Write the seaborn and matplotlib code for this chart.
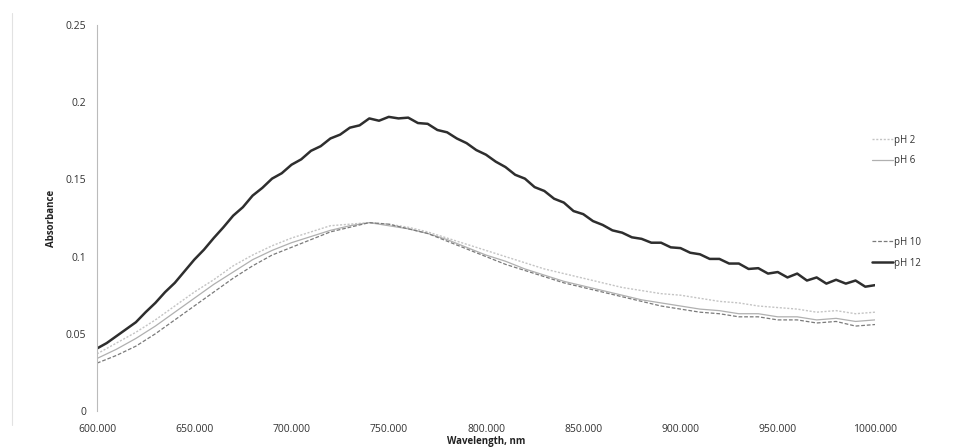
import numpy as np
import pandas as pd
import matplotlib
matplotlib.use("Agg")
import matplotlib.pyplot as plt
from matplotlib.lines import Line2D
import seaborn as sns

# ---- data ----
wl_fine = list(range(600, 1001, 5))
ph12 = [0.0405, 0.0440, 0.0485, 0.0530, 0.0575, 0.0640, 0.0700, 0.0770, 0.0830, 0.0905,
        0.0980, 0.1045, 0.1120, 0.1190, 0.1265, 0.1320, 0.1395, 0.1445, 0.1505, 0.1540,
        0.1595, 0.1630, 0.1685, 0.1715, 0.1765, 0.1790, 0.1835, 0.1850, 0.1895, 0.1880,
        0.1905, 0.1895, 0.1900, 0.1865, 0.1860, 0.1820, 0.1805, 0.1765, 0.1735, 0.1690,
        0.1660, 0.1615, 0.1580, 0.1530, 0.1505, 0.1450, 0.1425, 0.1375, 0.1350, 0.1295,
        0.1275, 0.1230, 0.1205, 0.1170, 0.1155, 0.1125, 0.1115, 0.1090, 0.1090, 0.1060,
        0.1055, 0.1025, 0.1015, 0.0985, 0.0985, 0.0955, 0.0955, 0.0920, 0.0925, 0.0890,
        0.0900, 0.0865, 0.0890, 0.0845, 0.0865, 0.0825, 0.0850, 0.0825, 0.0845, 0.0805,
        0.0815]

wl_coarse = list(range(600, 1001, 10))
ph2 = [0.037, 0.044, 0.051, 0.059, 0.068, 0.077, 0.085, 0.094, 0.101, 0.107,
       0.112, 0.116, 0.120, 0.121, 0.122, 0.121, 0.119, 0.116, 0.112, 0.108,
       0.104, 0.100, 0.096, 0.092, 0.089, 0.086, 0.083, 0.080, 0.078, 0.076,
       0.075, 0.073, 0.071, 0.070, 0.068, 0.067, 0.066, 0.064, 0.065, 0.063,
       0.064]
ph6 = [0.034, 0.040, 0.047, 0.055, 0.064, 0.073, 0.082, 0.090, 0.098, 0.104,
       0.109, 0.113, 0.117, 0.120, 0.122, 0.120, 0.118, 0.115, 0.111, 0.106,
       0.101, 0.097, 0.092, 0.088, 0.084, 0.081, 0.078, 0.075, 0.072, 0.070,
       0.068, 0.066, 0.065, 0.063, 0.063, 0.061, 0.061, 0.059, 0.060, 0.058,
       0.059]
ph10 = [0.031, 0.036, 0.042, 0.050, 0.059, 0.068, 0.077, 0.086, 0.094, 0.101,
        0.106, 0.111, 0.116, 0.119, 0.122, 0.121, 0.118, 0.115, 0.110, 0.105,
        0.100, 0.095, 0.091, 0.087, 0.083, 0.080, 0.077, 0.074, 0.071, 0.068,
        0.066, 0.064, 0.063, 0.061, 0.061, 0.059, 0.059, 0.057, 0.058, 0.055,
        0.056]

x_ticks = [600, 650, 700, 750, 800, 850, 900, 950, 1000]
y_ticks = [0, 0.05, 0.1, 0.15, 0.2, 0.25]
y_tick_labels = ["0", "0.05", "0.1", "0.15", "0.2", "0.25"]

sns.set_style("white")
plt.rcParams['font.family'] = ['Open Sans', 'DejaVu Sans']

fig = plt.figure(figsize=(9.61, 4.47), dpi=100)
ax = fig.add_axes([97/961, 36/447, 778/961, 386/447])

df12 = pd.DataFrame({"wl": wl_fine, "abs": ph12})
df2 = pd.DataFrame({"wl": wl_coarse, "abs": ph2})
df6 = pd.DataFrame({"wl": wl_coarse, "abs": ph6})
df10 = pd.DataFrame({"wl": wl_coarse, "abs": ph10})

sns.lineplot(data=df2, x="wl", y="abs", ax=ax, color="#c4c4c4", linewidth=1.0,
             linestyle=(0, (1.5, 1.2)), label="pH 2")
sns.lineplot(data=df6, x="wl", y="abs", ax=ax, color="#b0b0b0", linewidth=0.9,
             label="pH 6")
sns.lineplot(data=df10, x="wl", y="abs", ax=ax, color="#7a7a7a", linewidth=0.9,
             linestyle=(0, (3, 1.5)), label="pH 10")
sns.lineplot(data=df12, x="wl", y="abs", ax=ax, color="#2e2e2e", linewidth=1.8,
             label="pH 12")

ax.set_xlim(600, 1000)
ax.set_ylim(0, 0.25)
ax.set_xticks(x_ticks)
ax.set_xticklabels([f"{v:.3f}" for v in x_ticks], fontsize=7.5, color="#333333")
ax.set_yticks(y_ticks)
ax.set_yticklabels(y_tick_labels, fontsize=7.5, color="#333333")
ax.tick_params(axis="y", length=0, pad=8)
ax.tick_params(axis="x", length=2, direction="in", color="#dddddd", pad=9)

for s in ["top", "right", "bottom"]:
    ax.spines[s].set_visible(False)
ax.spines["left"].set_color("#bbbbbb")
ax.spines["left"].set_linewidth(0.8)
ax.grid(False)

ax.set_ylabel("Absorbance", fontsize=7, fontweight="bold", color="#222222", labelpad=6)
ax.set_xlabel("Wavelength, nm", fontsize=7, fontweight="bold", color="#222222", labelpad=1)

handles, labels = ax.get_legend_handles_labels()
if ax.legend_:
    ax.legend_.remove()
leg1 = ax.legend(handles[:2], labels[:2], loc="center left",
                 bbox_to_anchor=(0.985, 0.675), frameon=False, fontsize=7,
                 handlelength=2.2, labelspacing=1.0, handletextpad=0.1)
ax.add_artist(leg1)
leg2 = ax.legend(handles[2:], labels[2:], loc="center left",
                 bbox_to_anchor=(0.985, 0.41), frameon=False, fontsize=7,
                 handlelength=2.2, labelspacing=1.0, handletextpad=0.1)
for lg in (leg1, leg2):
    for t in lg.get_texts():
        t.set_color("#333333")

fig.add_artist(Line2D([12/961, 12/961], [0.05, 0.97], transform=fig.transFigure,
                      color="#e2e2e2", linewidth=0.8))

fig.savefig("out.png", dpi=100)
